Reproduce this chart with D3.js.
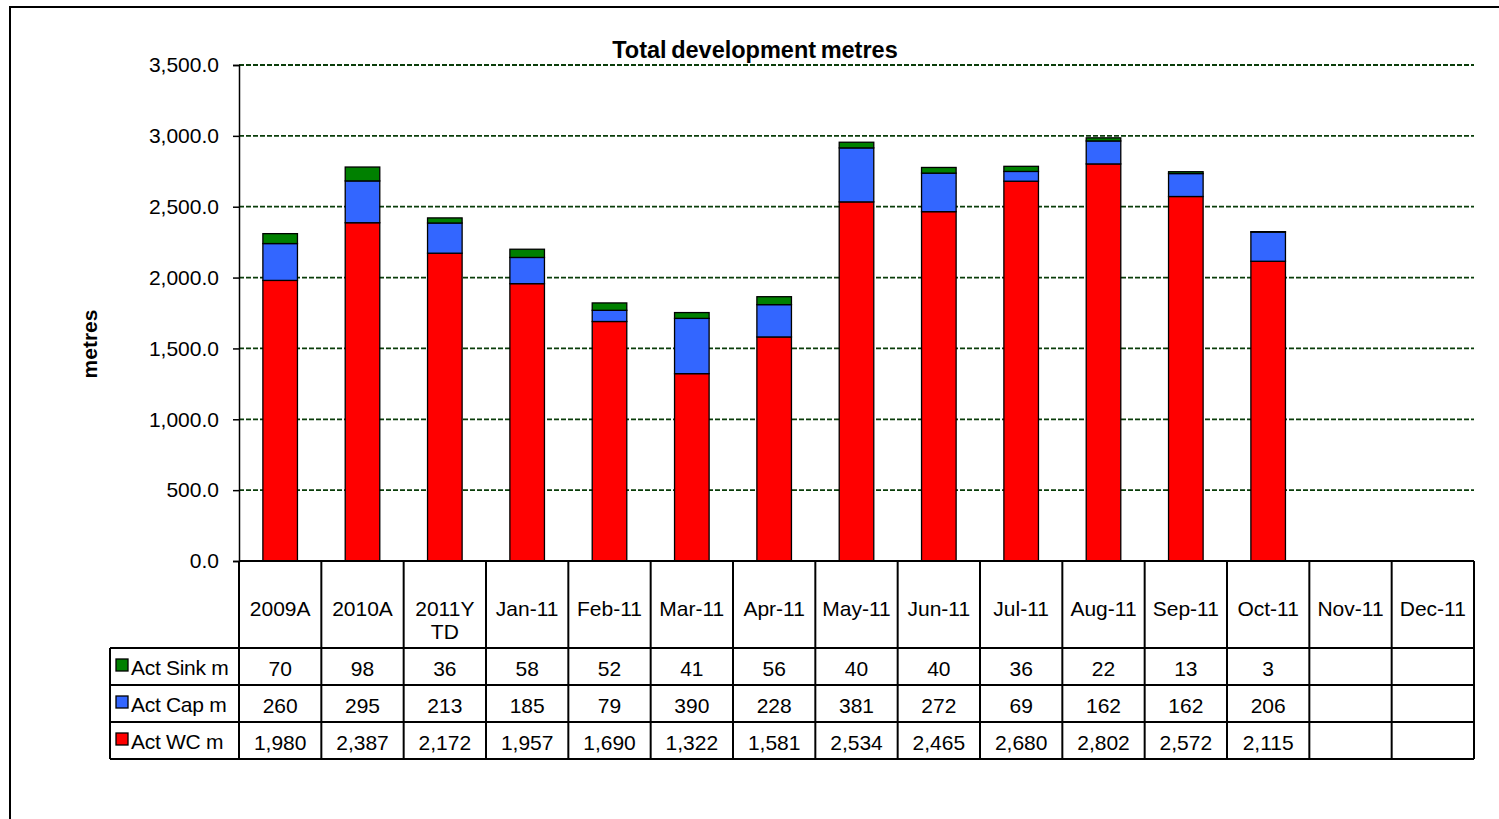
<!DOCTYPE html>
<html>
<head>
<meta charset="utf-8">
<script src="https://cdn.jsdelivr.net/npm/d3@7"></script>
<style>
  body { margin: 0; background: #fff; }
  text { font-family: "Liberation Sans", Arial, sans-serif; fill: #000; }
</style>
</head>
<body>
<div id="chart"></div>
<script>
const categories = ['2009A', '2010A', '2011YTD', 'Jan-11', 'Feb-11', 'Mar-11', 'Apr-11', 'May-11',
    'Jun-11', 'Jul-11', 'Aug-11', 'Sep-11', 'Oct-11', 'Nov-11', 'Dec-11'];
const sinkValues = [70, 98, 36, 58, 52, 41, 56, 40, 40, 36, 22, 13, 3, null, null];
const capValues = [260, 295, 213, 185, 79, 390, 228, 381, 272, 69, 162, 162, 206, null, null];
const wcValues = [1980, 2387, 2172, 1957, 1690, 1322, 1581, 2534, 2465, 2680, 2802, 2572, 2115, null, null];
const yTicks = [0, 500, 1000, 1500, 2000, 2500, 3000, 3500];

// table rows top-to-bottom, stack order bottom-to-top is the reverse
const series = [
    { name: 'Act Sink m', values: sinkValues, color: '#008000' },
    { name: 'Act Cap m', values: capValues, color: '#3366FF' },
    { name: 'Act WC m', values: wcValues, color: '#FF0000' },
];

const W = 1499, H = 819;
const PLOT_LEFT = 239, PLOT_RIGHT = 1474, PLOT_TOP = 65, PLOT_BOTTOM = 561;
const HEADER_H = 87, ROW_H = 37;
const LEGEND_LEFT = 110;
const BAR_FRAC = 0.42;
const FONT = 21;

const svg = d3.select('#chart').append('svg')
    .attr('width', W)
    .attr('height', H);

// outer chart border (runs off the right and bottom edges)
svg.append('rect')
    .attr('x', 10).attr('y', 7)
    .attr('width', W + 50).attr('height', H + 50)
    .attr('fill', 'none')
    .attr('stroke', '#000')
    .attr('stroke-width', 2);

const x = d3.scaleBand().domain(categories).range([PLOT_LEFT, PLOT_RIGHT]).padding(0);
const y = d3.scaleLinear().domain([0, 3500]).range([PLOT_BOTTOM, PLOT_TOP]);

// gridlines
svg.append('g')
    .selectAll('line')
    .data(yTicks.filter((t) => t > 0))
    .join('line')
    .attr('x1', PLOT_LEFT)
    .attr('x2', PLOT_RIGHT)
    .attr('y1', (d) => y(d))
    .attr('y2', (d) => y(d))
    .attr('stroke', '#0a3d0a')
    .attr('stroke-width', 1.8)
    .attr('stroke-dasharray', '5,2');

// stacked bars
const rows = categories.map((c, i) => {
    const r = { cat: c };
    series.forEach((s) => (r[s.name] = s.values[i] || 0));
    return r;
});
const stack = d3.stack().keys(series.map((s) => s.name).reverse())(rows);
const barW = x.bandwidth() * BAR_FRAC;

svg.append('g')
    .selectAll('g')
    .data(stack)
    .join('g')
    .attr('fill', (d) => series.find((s) => s.name === d.key).color)
    .selectAll('rect')
    .data((d) => d.filter((p) => p[1] > p[0]))
    .join('rect')
    .attr('x', (d) => x(d.data.cat) + (x.bandwidth() - barW) / 2)
    .attr('width', barW)
    .attr('y', (d) => y(d[1]))
    .attr('height', (d) => y(d[0]) - y(d[1]))
    .attr('stroke', '#000')
    .attr('stroke-width', 1.3);

// y axis
const yAxis = svg.append('g')
    .attr('transform', `translate(${PLOT_LEFT},0)`)
    .call(d3.axisLeft(y).tickValues(yTicks).tickFormat(d3.format(',.1f')).tickSize(6).tickPadding(14));
yAxis.select('.domain').attr('stroke', '#000').attr('stroke-width', 1.5);
yAxis.selectAll('.tick line').attr('stroke', '#000').attr('stroke-width', 1.5);
yAxis.selectAll('.tick text')
    .attr('font-size', FONT)
    .attr('font-family', '"Liberation Sans", Arial, sans-serif')
    .attr('fill', '#000');

// title and axis label
svg.append('text')
    .attr('x', 755)
    .attr('y', 58)
    .attr('text-anchor', 'middle')
    .attr('font-size', 23.5)
    .attr('font-weight', 'bold')
    .attr('word-spacing', -2)
    .text('Total development metres');

svg.append('text')
    .attr('transform', 'translate(97,344) rotate(-90)')
    .attr('text-anchor', 'middle')
    .attr('font-size', FONT)
    .attr('font-weight', 'bold')
    .text('metres');

// data table
const table = svg.append('g').attr('stroke', '#000').attr('stroke-width', 2);
const tableBottom = PLOT_BOTTOM + HEADER_H + ROW_H * series.length;

table.append('line')
    .attr('x1', PLOT_LEFT).attr('x2', PLOT_RIGHT)
    .attr('y1', PLOT_BOTTOM).attr('y2', PLOT_BOTTOM);
d3.range(series.length + 1).forEach((i) => {
    const yy = PLOT_BOTTOM + HEADER_H + ROW_H * i;
    table.append('line')
        .attr('x1', LEGEND_LEFT).attr('x2', PLOT_RIGHT)
        .attr('y1', yy).attr('y2', yy);
});
table.selectAll('line.col')
    .data(categories.concat(['end']))
    .join('line')
    .attr('class', 'col')
    .attr('x1', (d, i) => PLOT_LEFT + x.bandwidth() * i)
    .attr('x2', (d, i) => PLOT_LEFT + x.bandwidth() * i)
    .attr('y1', PLOT_BOTTOM)
    .attr('y2', tableBottom);
table.append('line')
    .attr('x1', LEGEND_LEFT).attr('x2', LEGEND_LEFT)
    .attr('y1', PLOT_BOTTOM + HEADER_H).attr('y2', tableBottom);

// header labels, wrapped when wider than the cell
const header = svg.append('g')
    .selectAll('text')
    .data(categories)
    .join('text')
    .attr('x', (d) => x(d) + x.bandwidth() / 2)
    .attr('y', PLOT_BOTTOM + 55)
    .attr('text-anchor', 'middle')
    .attr('font-size', FONT)
    .text((d) => d);
header.each(function (d) {
    const t = d3.select(this);
    if (this.getComputedTextLength() > x.bandwidth() - 4) {
        t.text(null);
        t.append('tspan').attr('x', x(d) + x.bandwidth() / 2).text(d.slice(0, 5));
        t.append('tspan').attr('x', x(d) + x.bandwidth() / 2).attr('dy', 23).text(d.slice(5));
    }
});

// rows
const fmt = d3.format(',');
series.forEach((s, r) => {
    const top = PLOT_BOTTOM + HEADER_H + ROW_H * r;
    const g = svg.append('g');
    g.append('rect')
        .attr('x', 116).attr('y', top + 11)
        .attr('width', 12).attr('height', 12)
        .attr('fill', s.color)
        .attr('stroke', '#000')
        .attr('stroke-width', 1.3);
    g.append('text')
        .attr('x', 131)
        .attr('y', top + 27)
        .attr('font-size', FONT)
        .attr('letter-spacing', -0.3)
        .text(s.name);
    g.selectAll('text.val')
        .data(s.values)
        .join('text')
        .attr('class', 'val')
        .attr('x', (d, i) => x(categories[i]) + x.bandwidth() / 2)
        .attr('y', top + 28)
        .attr('text-anchor', 'middle')
        .attr('font-size', FONT)
        .text((d) => (d == null ? '' : fmt(d)));
});
</script>
</body>
</html>
